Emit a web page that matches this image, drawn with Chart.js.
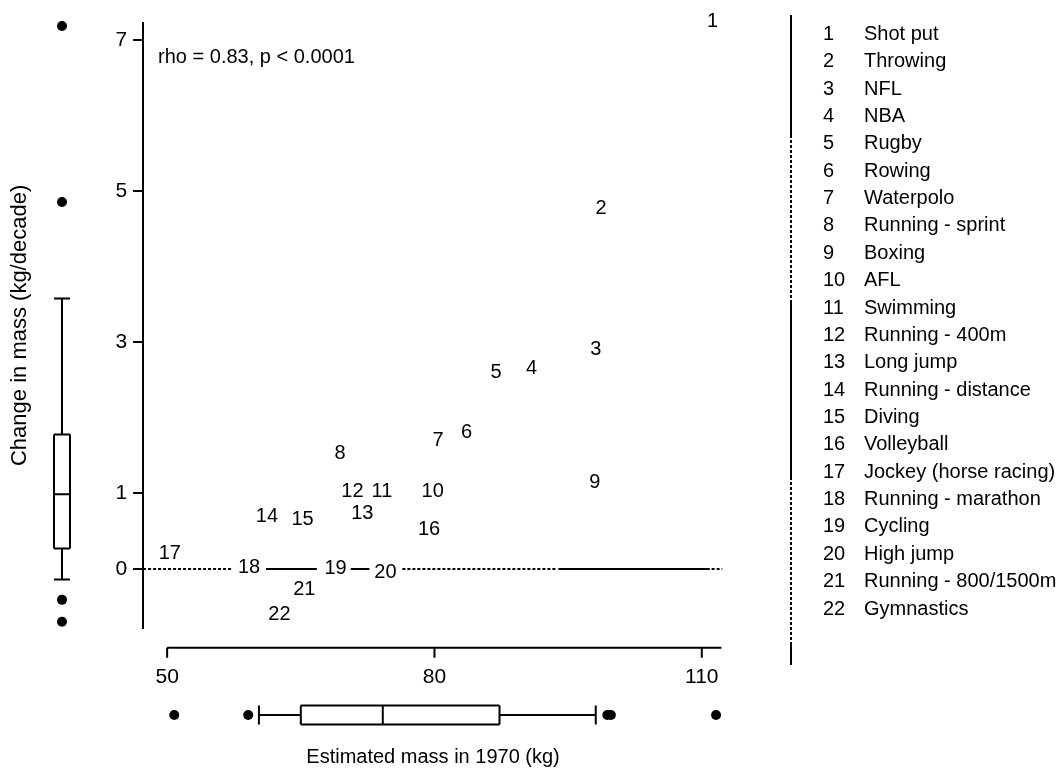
<!DOCTYPE html>
<html>
<head>
<meta charset="utf-8">
<script src="https://cdn.jsdelivr.net/npm/chart.js@4.4.1/dist/chart.umd.min.js"></script>
<style>
  html, body { margin: 0; padding: 0; background: #fff; }
</style>
</head>
<body>
<canvas id="chart" width="1062" height="772"></canvas>
<script>
// sports, numbered as on the plot
const sportIds = ['1', '2', '3', '4', '5', '6', '7', '8', '9', '10', '11',
  '12', '13', '14', '15', '16', '17', '18', '19', '20', '21', '22'];
const sportNames = ['Shot put', 'Throwing', 'NFL', 'NBA', 'Rugby', 'Rowing',
  'Waterpolo', 'Running - sprint', 'Boxing', 'AFL', 'Swimming', 'Running - 400m',
  'Long jump', 'Running - distance', 'Diving', 'Volleyball', 'Jockey (horse racing)',
  'Running - marathon', 'Cycling', 'High jump', 'Running - 800/1500m', 'Gymnastics'];

// estimated mass in 1970 (kg)
const mass1970 = [111.2, 98.7, 98.1, 90.9, 86.9, 83.6, 80.4, 69.4, 98.0, 79.8, 74.1,
  70.8, 71.9, 61.2, 65.2, 79.4, 50.3, 59.2, 68.9, 74.5, 65.4, 62.6];
// change in mass (kg/decade)
const massChange = [7.25, 4.78, 2.91, 2.66, 2.60, 1.81, 1.70, 1.53, 1.14, 1.02, 1.02,
  1.02, 0.73, 0.70, 0.66, 0.52, 0.21, 0.02, 0.01, -0.05, -0.27, -0.61];

// marginal boxplots: [lower whisker, q1, median, q3, upper whisker]
const yBoxStats = [-0.14, 0.27, 0.99, 1.78, 3.58];
const yBoxOutliers = [7.19, 4.86, -0.41, -0.70];
const xBoxStats = [60.3, 65.0, 74.2, 87.3, 98.1];
const xBoxOutliers = [50.8, 59.1, 99.4, 99.8, 111.6];

// horizontal reference line at 0, broken around the labels
const zeroSolidSegs = [[61.1, 66.8], [70.6, 72.7], [93.9, 110.9]];
const zeroDashSegs = [[47.3, 57.4], [76.4, 93.6], [111.1, 112.3]];

const xTicks = [50, 80, 110];
const yTicks = [0, 1, 3, 5, 7];
const xAxisSpan = [50, 112.2];

const FONT = '"Liberation Sans", Arial, sans-serif';

// turn [[a,b],...] into one line with gaps
function segData(segs) {
  const out = [];
  segs.forEach(([a, b]) => {
    out.push({ x: a, y: 0 }, { x: b, y: 0 }, { x: (a + b) / 2, y: null });
  });
  return out;
}

function drawBox(ctx, stats, outliers, toPx, center, half, vertical) {
  const p = stats.map(toPx);
  const line = (a1, b1, a2, b2) => {
    if (vertical) { ctx.moveTo(b1, a1); ctx.lineTo(b2, a2); }
    else { ctx.moveTo(a1, b1); ctx.lineTo(a2, b2); }
  };
  ctx.beginPath();
  line(p[0], center, p[1], center);
  line(p[3], center, p[4], center);
  line(p[0], center - half, p[0], center + half);
  line(p[4], center - half, p[4], center + half);
  line(p[2], center - half, p[2], center + half);
  line(p[1], center - half, p[3], center - half);
  line(p[1], center + half, p[3], center + half);
  line(p[1], center - half, p[1], center + half);
  line(p[3], center - half, p[3], center + half);
  ctx.stroke();
  outliers.forEach(v => {
    const q = toPx(v);
    ctx.beginPath();
    if (vertical) ctx.arc(center, q, 5, 0, Math.PI * 2);
    else ctx.arc(q, center, 5, 0, Math.PI * 2);
    ctx.fill();
  });
}

const decor = {
  id: 'decor',
  afterDraw(chart) {
    const { ctx, chartArea, scales } = chart;
    const xs = scales.x, ys = scales.y;
    ctx.save();
    ctx.strokeStyle = '#000';
    ctx.fillStyle = '#000';

    // point labels instead of markers
    ctx.font = '20px ' + FONT;
    ctx.textAlign = 'center';
    ctx.textBaseline = 'middle';
    chart.getDatasetMeta(0).data.forEach((pt, i) => {
      ctx.fillText(sportIds[i], pt.x, pt.y);
    });

    // detached x axis
    const axY = chartArea.bottom + 20;
    ctx.lineWidth = 2;
    ctx.beginPath();
    ctx.moveTo(xs.getPixelForValue(xAxisSpan[0]), axY);
    ctx.lineTo(xs.getPixelForValue(xAxisSpan[1]), axY);
    xTicks.forEach(v => {
      const px = xs.getPixelForValue(v);
      ctx.moveTo(px, axY);
      ctx.lineTo(px, axY + 10);
    });
    ctx.stroke();

    // marginal boxplots
    ctx.lineWidth = 2;
    drawBox(ctx, yBoxStats, yBoxOutliers, v => ys.getPixelForValue(v), 62, 8, true);
    drawBox(ctx, xBoxStats, xBoxOutliers, v => xs.getPixelForValue(v), 715, 9.5, false);

    // correlation note
    ctx.textAlign = 'left';
    ctx.fillText('rho = 0.83, p < 0.0001', chartArea.left + 15, 57);

    // key on the right
    sportIds.forEach((id, i) => {
      const ty = 34.3 + i * 27.37;
      ctx.fillText(id, 823, ty);
      ctx.fillText(sportNames[i], 864, ty);
    });
    const rule = [[15, 135, false], [135, 303, true], [303, 477, false], [477, 645, true], [645, 665, false]];
    rule.forEach(([a, b, dashed]) => {
      ctx.setLineDash(dashed ? [3, 2] : []);
      ctx.beginPath();
      ctx.moveTo(791, a);
      ctx.lineTo(791, b);
      ctx.stroke();
    });
    ctx.restore();
  }
};

new Chart(document.getElementById('chart'), {
  type: 'scatter',
  data: {
    datasets: [
      {
        label: 'Sports',
        data: mass1970.map((m, i) => ({ x: m, y: massChange[i] })),
        pointRadius: 0,
        clip: false
      },
      {
        label: 'zero solid',
        data: segData(zeroSolidSegs),
        showLine: true,
        spanGaps: false,
        pointRadius: 0,
        borderColor: '#000',
        borderWidth: 2
      },
      {
        label: 'zero dashed',
        data: segData(zeroDashSegs),
        showLine: true,
        spanGaps: false,
        pointRadius: 0,
        borderColor: '#000',
        borderWidth: 2,
        borderDash: [3, 2]
      }
    ]
  },
  options: {
    responsive: false,
    animation: false,
    devicePixelRatio: 1,
    layout: { padding: { top: 23, right: 339, left: 0, bottom: 0 } },
    plugins: {
      legend: { display: false },
      tooltip: { enabled: false }
    },
    scales: {
      x: {
        type: 'linear',
        min: 47.3,
        max: 112.38,
        afterBuildTicks: axis => { axis.ticks = xTicks.map(v => ({ value: v })); },
        grid: { display: false, drawTicks: false },
        border: { display: false },
        ticks: { color: '#000', font: { family: FONT, size: 21 }, padding: 37, maxRotation: 0 },
        title: {
          display: true,
          text: 'Estimated mass in 1970 (kg)',
          color: '#000',
          font: { family: FONT, size: 20 },
          padding: { top: 18, bottom: 3 }
        }
      },
      y: {
        type: 'linear',
        min: -0.78,
        max: 7.23,
        afterBuildTicks: axis => { axis.ticks = yTicks.map(v => ({ value: v })); },
        grid: { display: true, drawOnChartArea: false, drawTicks: true, tickLength: 10, color: '#000', lineWidth: 2 },
        border: { display: true, color: '#000', width: 2 },
        ticks: { color: '#000', font: { family: FONT, size: 21 }, padding: 6 },
        title: {
          display: true,
          text: 'Change in mass (kg/decade)',
          color: '#000',
          font: { family: FONT, size: 22 },
          padding: { top: 7, bottom: 76 }
        }
      }
    }
  },
  plugins: [decor]
});
</script>
</body>
</html>
